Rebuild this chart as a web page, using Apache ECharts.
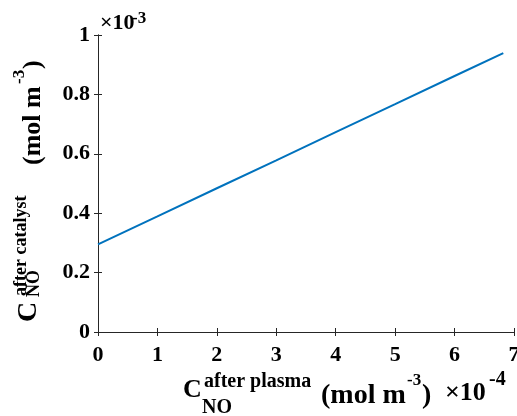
<!DOCTYPE html>
<html>
<head>
<meta charset="utf-8">
<script src="https://cdn.jsdelivr.net/npm/echarts@6/dist/echarts.min.js"></script>
<style>
    html, body { margin: 0; padding: 0; background: #fff; }
    #grid1 { width: 517px; height: 416px; }
</style>
</head>
<body>
<div id="grid1"></div>
<script>
    // C_NO after plasma (x 1e-4 mol m-3) vs C_NO after catalyst (x 1e-3 mol m-3)
    var plasmaNO = [0, 1, 2, 3, 4, 5, 6, 6.82];
    var catalystNO = [0.295, 0.389, 0.484, 0.578, 0.673, 0.767, 0.862, 0.939];
    var xTicks = [0, 1, 2, 3, 4, 5, 6, 7];
    var yTicks = [0, 0.2, 0.4, 0.6, 0.8, 1];

    var serif = '"Liberation Serif", "Times New Roman", serif';
    function f(size) { return 'bold ' + size + 'px ' + serif; }
    function txt(x, y, s, size) {
        return {
            type: 'text', x: x, y: y, silent: true,
            style: { text: s, font: f(size), fill: '#000', textAlign: 'left', textVerticalAlign: 'middle' }
        };
    }

    var pts = plasmaNO.map(function (v, i) { return [v, catalystNO[i]]; });

    var myChart = echarts.init(document.getElementById('grid1'));
    myChart.setOption({
        animation: false,
        grid: { left: 98, top: 35, right: 3, bottom: 84, containLabel: false, outerBoundsMode: 'none' },
        xAxis: [
            {
                type: 'value', min: xTicks[0], max: xTicks[xTicks.length - 1], interval: 1,
                axisLine: { lineStyle: { color: '#262626', width: 1 } },
                axisTick: { inside: true, length: 4, lineStyle: { color: '#262626' } },
                axisLabel: { color: '#000', fontFamily: serif, fontWeight: 'bold', fontSize: 22, margin: 12 },
                splitLine: { show: false }
            },
            {
                type: 'value', position: 'top', min: xTicks[0], max: xTicks[xTicks.length - 1], interval: 1,
                axisLine: { lineStyle: { color: '#262626', width: 1 } },
                axisTick: { inside: true, length: 4, lineStyle: { color: '#262626' } },
                axisLabel: { show: false },
                splitLine: { show: false }
            }
        ],
        yAxis: [
            {
                type: 'value', min: yTicks[0], max: yTicks[yTicks.length - 1], interval: 0.2,
                axisLine: { show: true, lineStyle: { color: '#262626', width: 1 } },
                axisTick: { show: true, inside: true, length: 4, lineStyle: { color: '#262626' } },
                axisLabel: { color: '#000', fontFamily: serif, fontWeight: 'bold', fontSize: 22, margin: 8 },
                splitLine: { show: false }
            },
            {
                type: 'value', position: 'right', min: yTicks[0], max: yTicks[yTicks.length - 1], interval: 0.2,
                axisLine: { show: true, lineStyle: { color: '#262626', width: 1 } },
                axisTick: { show: true, inside: true, length: 4, lineStyle: { color: '#262626' } },
                axisLabel: { show: false },
                splitLine: { show: false }
            }
        ],
        series: [
            {
                type: 'line',
                data: pts,
                showSymbol: false,
                lineStyle: { color: '#0072BD', width: 2 },
                xAxisIndex: 0, yAxisIndex: 0
            }
        ],
        graphic: [
            // exponent labels
            txt(100, 23, '\u00d710', 22),
            txt(132, 19, '-3', 17),
            txt(445, 393, '\u00d710', 26),
            txt(489, 380, '-4', 20),
            // x axis label
            txt(183, 390, 'C', 26),
            txt(204, 382, 'after plasma', 20),
            txt(202, 408, 'NO', 20),
            txt(321, 396, '(mol m', 28),
            txt(407, 381, '-3', 17),
            txt(422, 396, ')', 28),
            // y axis label (rotated)
            {
                type: 'group', x: 0, y: 322, rotation: Math.PI / 2,
                children: [
                    txt(0, 29, 'C', 28),
                    txt(26, 21, 'after catalyst', 18),
                    txt(25, 34, 'NO', 18),
                    txt(157, 33, '(mol m', 26),
                    txt(238, 20, '-3', 17),
                    txt(253, 33, ')', 26)
                ]
            }
        ]
    });
</script>
</body>
</html>
